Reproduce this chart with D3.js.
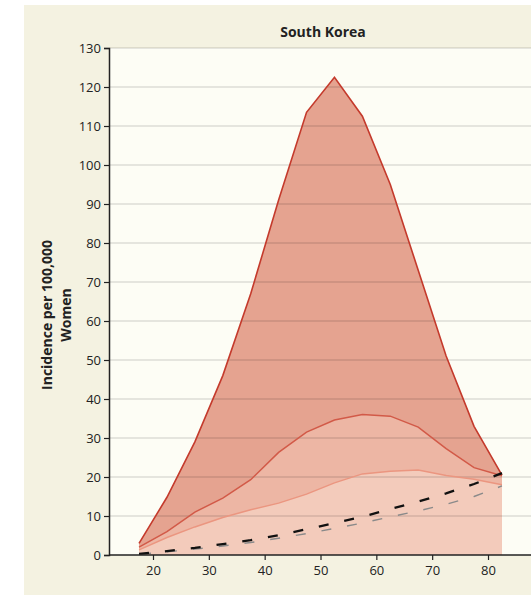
<!DOCTYPE html>
<html lang="en">
<head>
    <meta charset="UTF-8">
    <title>South Korea</title>
    <script type="text/javascript" src="https://cdn.jsdelivr.net/npm/d3@7"></script>
    <style>
        body { margin: 0; background: #fff; }
        text { font-family: "Open Sans", "DejaVu Sans", sans-serif; fill: #222; }
    </style>
</head>
<body>
<script type="text/javascript">
    const width = 531, height = 595;

    // data: age group midpoints
    const ages = [17.5, 22.5, 27.5, 32.5, 37.5, 42.5, 47.5, 52.5, 57.5, 62.5, 67.5, 72.5, 77.5, 82.5];
    const upper = [3, 14.8, 29, 46, 67, 91, 113.5, 122.5, 112.5, 95, 73, 51, 33, 20.5];
    const middle = [2, 6, 11, 14.6, 19.3, 26.3, 31.5, 34.6, 36, 35.6, 32.8, 27.3, 22.4, 20.3];
    const lower = [1.3, 4.5, 7.2, 9.6, 11.6, 13.3, 15.6, 18.5, 20.8, 21.5, 21.8, 20.4, 19.4, 18];
    const dashBlack = [0.3, 1, 1.8, 2.8, 3.8, 5.1, 6.6, 8.2, 9.8, 11.8, 13.7, 15.8, 18.2, 21];
    const dashGray = [0.2, 0.8, 1.5, 2.3, 3.2, 4.3, 5.5, 6.8, 8.2, 9.8, 11.3, 13, 15, 17.7];
    const xTicks = [20, 30, 40, 50, 60, 70, 80];
    const yTicks = d3.range(0, 131, 10);

    const svg = d3.select('body').append('svg')
        .attr('width', width)
        .attr('height', height);

    // beige panel
    svg.append('rect')
        .attr('x', 24).attr('y', 5)
        .attr('width', width - 24).attr('height', height - 5)
        .attr('fill', '#f4f2e1');

    const x = d3.scaleLinear().domain([12.12, 87.7]).range([109, 531]);
    const y = d3.scaleLinear().domain([0, 130]).range([555, 48]);

    // plot area
    svg.append('rect')
        .attr('x', 109).attr('y', 48)
        .attr('width', 531 - 109).attr('height', 555 - 48)
        .attr('fill', '#fdfdf5');

    const pts = function (arr) {
        return ages.map(function (a, i) { return [a, arr[i]]; });
    };

    const area = d3.area()
        .x(function (d) { return x(d[0]); })
        .y0(y(0))
        .y1(function (d) { return y(d[1]); });
    const line = d3.line()
        .x(function (d) { return x(d[0]); })
        .y(function (d) { return y(d[1]); });

    // filled bands
    svg.append('path').attr('d', area(pts(upper))).attr('fill', '#e5a390');
    svg.append('path').attr('d', area(pts(middle))).attr('fill', '#edb6a4');
    svg.append('path').attr('d', area(pts(lower))).attr('fill', '#f3cbbb');

    // grid lines
    svg.append('g').selectAll('line')
        .data(yTicks.filter(function (d) { return d > 0; }))
        .enter().append('line')
        .attr('x1', 109).attr('x2', 531)
        .attr('y1', function (d) { return y(d); })
        .attr('y2', function (d) { return y(d); })
        .attr('stroke', 'rgba(0,0,0,0.13)')
        .attr('stroke-width', 1.5);

    // curves
    svg.append('path').attr('d', line(pts(lower)))
        .attr('fill', 'none').attr('stroke', '#eb9680').attr('stroke-width', 1.5);
    svg.append('path').attr('d', line(pts(middle)))
        .attr('fill', 'none').attr('stroke', '#d25a48').attr('stroke-width', 1.5);
    svg.append('path').attr('d', line(pts(upper)))
        .attr('fill', 'none').attr('stroke', '#c43a2c').attr('stroke-width', 1.6);

    svg.append('path').attr('d', line(pts(dashGray)))
        .attr('fill', 'none').attr('stroke', '#8a8a8a').attr('stroke-width', 1.4)
        .attr('stroke-dasharray', '10,16').attr('stroke-dashoffset', -2);
    svg.append('path').attr('d', line(pts(dashBlack)))
        .attr('fill', 'none').attr('stroke', '#111').attr('stroke-width', 2.3)
        .attr('stroke-dasharray', '10,16');

    // axes
    const yAxis = svg.append('g')
        .attr('transform', 'translate(109,0)')
        .call(d3.axisLeft(y).tickValues(yTicks).tickSize(5).tickPadding(3));
    const xAxis = svg.append('g')
        .attr('transform', 'translate(0,555)')
        .call(d3.axisBottom(x).tickValues(xTicks).tickSize(5).tickPadding(6));
    [yAxis, xAxis].forEach(function (g) {
        g.select('.domain').attr('stroke', '#222').attr('stroke-width', 1.5);
        g.selectAll('.tick line').attr('stroke', '#222').attr('stroke-width', 1.2);
        g.selectAll('.tick text')
            .style('font-family', '"Open Sans", sans-serif')
            .style('font-size', '13px')
            .attr('fill', '#222');
    });
    xAxis.select('.domain').attr('d', 'M109,0H531');

    // title
    svg.append('text')
        .attr('x', 323).attr('y', 37)
        .attr('text-anchor', 'middle')
        .style('font-size', '14px')
        .style('font-weight', 'bold')
        .text('South Korea');

    // y label
    const yl = svg.append('text')
        .attr('transform', 'translate(52,315) rotate(-90)')
        .attr('text-anchor', 'middle')
        .style('font-size', '14px')
        .style('font-weight', 'bold');
    yl.append('tspan').attr('x', 0).attr('dy', 0).text('Incidence per 100,000');
    yl.append('tspan').attr('x', 0).attr('dy', 19).text('Women');
</script>
</body>
</html>
